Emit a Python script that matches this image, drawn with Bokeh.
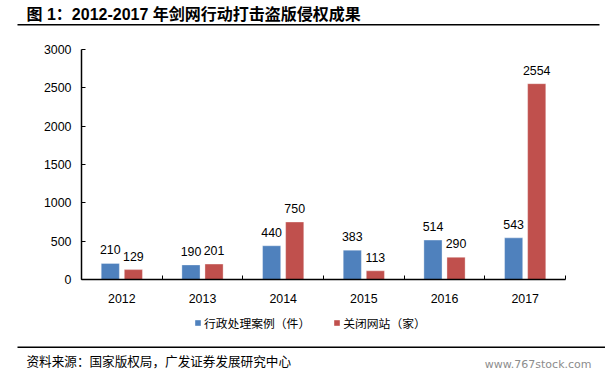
from bokeh.plotting import figure
from bokeh.layouts import column
from bokeh.models import (ColumnDataSource, Range1d, FixedTicker, LabelSet, Label,
                          BoxAnnotation, Legend, LegendItem)
from bokeh.core.properties import value
from bokeh.embed import file_html
from bokeh.resources import INLINE

# ---- data ----
years = ["2012", "2013", "2014", "2015", "2016", "2017"]
cases = [210, 190, 440, 383, 514, 543]          # 行政处理案例（件）
closed = [129, 201, 750, 113, 290, 2554]        # 关闭网站（家）
y_ticks = [0, 500, 1000, 1500, 2000, 2500, 3000]
series_names = ["行政处理案例（件）", "关闭网站（家）"]
title_text = "图 1：2012-2017 年剑网行动打击盗版侵权成果"
source_text = "资料来源：国家版权局，广发证券发展研究中心"
watermark = "www.767stock.com"

BLUE = "#4F81BD"
RED = "#C0504D"
NUM_FONT = "Liberation Sans"
CJK_FONT = "Noto Sans CJK SC"
W = 605


def deco_fig(h):
    f = figure(width=W, height=h, output_backend="svg", toolbar_location=None,
               x_range=Range1d(0, W), y_range=Range1d(h, 0),
               x_axis_location=None, y_axis_location=None, min_border=0,
               frame_align=False)
    f.outline_line_color = None
    f.grid.visible = False
    return f


# ---- title strip ----
HT = 30
pt = deco_fig(HT)
pt.add_layout(Label(x=26, y=13.5, text=title_text,
                    text_font="'Liberation Sans', 'Noto Sans CJK SC'",
                    text_font_style="bold", text_font_size="16px",
                    text_baseline="middle", text_align="left", text_color="black"))
pt.add_layout(BoxAnnotation(left=17, right=599, top=23.5, bottom=25,
                            fill_color="black", fill_alpha=1, line_color=None))

# ---- main chart ----
n = len(years)
centers = [i + 0.5 for i in range(n)]
off = 0.143
bw = 0.225

src = ColumnDataSource(dict(
    xb=[c - off for c in centers],
    xr=[c + off for c in centers],
    cases=cases,
    closed=closed,
    cases_txt=[str(v) for v in cases],
    closed_txt=[str(v) for v in closed],
))

HC = 275
p = figure(width=W, height=HC, output_backend="svg", toolbar_location=None,
           x_range=Range1d(0, n), y_range=Range1d(0, 3000),
           min_border_left=81, min_border_right=40, min_border_top=19,
           min_border_bottom=26, frame_align=False)
p.outline_line_color = None
p.grid.visible = False

p.vbar(x="xb", top="cases", width=bw, source=src, fill_color=BLUE,
       line_color="white", line_alpha=0.35, line_width=1)
p.vbar(x="xr", top="closed", width=bw, source=src, fill_color=RED,
       line_color="white", line_alpha=0.35, line_width=1)

for xcol, ycol, tcol in (("xb", "cases", "cases_txt"), ("xr", "closed", "closed_txt")):
    p.add_layout(LabelSet(x=xcol, y=ycol, text=tcol, source=src, y_offset=13.5,
                          text_align="center", text_baseline="middle",
                          text_font=value(NUM_FONT), text_font_size=value("12.4px"),
                          text_color="black"))

xa = p.xaxis[0]
xa.ticker = FixedTicker(ticks=centers, minor_ticks=list(range(n + 1)))
xa.major_label_overrides = {c: y for c, y in zip(centers, years)}
xa.major_tick_line_color = None
xa.minor_tick_line_color = "black"
xa.minor_tick_in = 4
xa.minor_tick_out = 0
xa.axis_line_color = "black"
xa.axis_line_width = 1.5
xa.major_label_standoff = 8
xa.major_label_text_font = NUM_FONT
xa.major_label_text_font_size = "12.4px"
xa.major_label_text_color = "black"

ya = p.yaxis[0]
ya.ticker = FixedTicker(ticks=y_ticks)
ya.major_tick_in = 4
ya.major_tick_out = 0
ya.major_tick_line_color = "black"
ya.minor_tick_line_color = None
ya.axis_line_color = "black"
ya.axis_line_width = 1.5
ya.major_label_standoff = 10
ya.major_label_text_font = NUM_FONT
ya.major_label_text_font_size = "12.4px"
ya.major_label_text_color = "black"

# ---- legend strip ----
HL = 32
pl = deco_fig(HL)
lr1 = pl.vbar(x="xb", top="cases", width=bw, source=src, fill_color=BLUE,
              line_color=None, visible=False)
lr2 = pl.vbar(x="xr", top="closed", width=bw, source=src, fill_color=RED,
              line_color=None, visible=False)
legend = Legend(items=[LegendItem(label=series_names[0], renderers=[lr1]),
                       LegendItem(label=series_names[1], renderers=[lr2])],
                location=(194, 6.5), orientation="horizontal",
                glyph_width=7, glyph_height=7, label_height=16, label_standoff=3,
                spacing=23, padding=0, margin=0,
                label_text_font=CJK_FONT, label_text_font_size="11.8px",
                label_text_color="black", inactive_fill_alpha=0,
                border_line_color=None, background_fill_alpha=0)
pl.add_layout(legend)

# ---- footer strip ----
HF = 377 - HT - HC - HL
pf = deco_fig(HF)
pf.add_layout(BoxAnnotation(left=17, right=W, top=9, bottom=10.5,
                            fill_color="black", fill_alpha=1, line_color=None))
pf.add_layout(Label(x=26, y=23, text=source_text,
                    text_font=CJK_FONT, text_font_size="12.6px",
                    text_baseline="middle", text_align="left", text_color="black"))
pf.add_layout(Label(x=591, y=27.3, text=watermark,
                    text_font="DejaVu Sans", text_font_size="11px",
                    text_baseline="middle", text_align="right", text_color="#8c8c8c"))

layout = column(pt, p, pl, pf, spacing=0)
open("out.html", "w").write(file_html(layout, INLINE))
